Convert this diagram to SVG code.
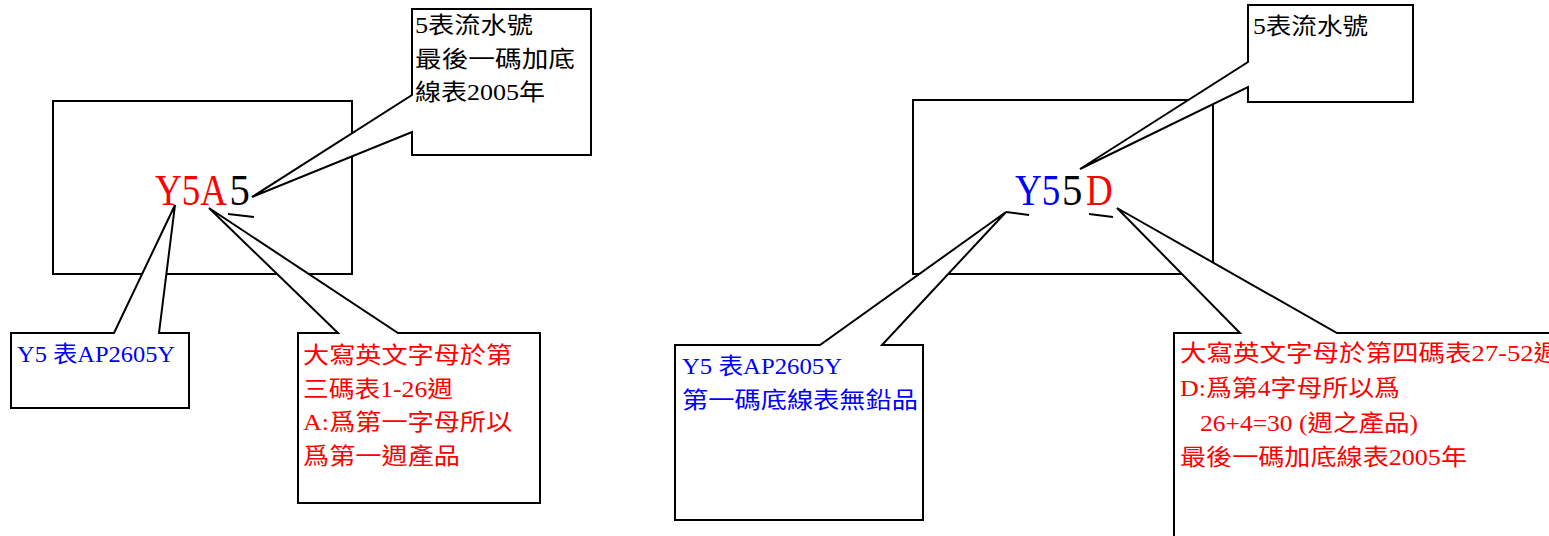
<svg xmlns="http://www.w3.org/2000/svg" width="1549" height="536" viewBox="0 0 1549 536">
<style>
.frame{fill:#fff;stroke:#000;stroke-width:2}
.callout{fill:#fff;stroke:#000;stroke-width:2;stroke-linejoin:miter}
.ul{stroke:#000;stroke-width:2;fill:none}
text{font-family:"Liberation Serif","Noto Sans CJK TC",serif}
.big{font-size:37px}
.t{font-size:23px}
.r{fill:#ff0000}
.b{fill:#0000ff}
.k{fill:#000}
</style>
<rect width="1549" height="536" fill="#fff"/>
<g id="label-left">
<rect class="frame" x="53" y="101" width="299" height="173"/>
<text class="big r" transform="translate(155 205) scale(1 1.2)">Y5A</text>
<text class="big k" transform="translate(229.5 205) scale(1.1 1.2)">5</text>
</g>
<g id="label-right">
<rect class="frame" x="913" y="100" width="300" height="174"/>
<text class="big b" transform="translate(1015 205) scale(1 1.2)">Y5</text>
<text class="big k" transform="translate(1062 205) scale(1.1 1.2)">5</text>
<text class="big r" transform="translate(1086 205) scale(1 1.2)">D</text>
</g>
<g id="connectors">
<line class="ul" x1="228" y1="214" x2="254" y2="217"/>
<line class="ul" x1="1006" y1="212" x2="1029" y2="215"/>
<line class="ul" x1="1089" y1="214" x2="1113" y2="217"/>
</g>
<g id="note-serial-left">
<polygon class="callout" points="412,9 591,9 591,155 412,155 412,132 252,197 412,95"/>
<text class="t k" x="415" y="33" textLength="118" lengthAdjust="spacingAndGlyphs">5表流水號</text>
<text class="t k" x="415" y="67" textLength="160" lengthAdjust="spacingAndGlyphs">最後一碼加底</text>
<text class="t k" x="415" y="100" textLength="130" lengthAdjust="spacingAndGlyphs">線表2005年</text>
</g>
<g id="note-model-left">
<polygon class="callout" points="11,333 114,333 175,205 159,333 189,333 189,408 11,408"/>
<text class="t b" x="17" y="362" textLength="158" lengthAdjust="spacingAndGlyphs">Y5 表AP2605Y</text>
</g>
<g id="note-week-left">
<polygon class="callout" points="298,333 338,333 209,208 398,333 540,333 540,503 298,503"/>
<text class="t r" x="303" y="363" textLength="209" lengthAdjust="spacingAndGlyphs">大寫英文字母於第</text>
<text class="t r" x="303" y="397" textLength="150" lengthAdjust="spacingAndGlyphs">三碼表1-26週</text>
<text class="t r" x="303" y="430" textLength="209" lengthAdjust="spacingAndGlyphs">A:爲第一字母所以</text>
<text class="t r" x="303" y="464" textLength="157" lengthAdjust="spacingAndGlyphs">爲第一週產品</text>
</g>
<g id="note-serial-right">
<polygon class="callout" points="1248,5 1413,5 1413,102 1248,102 1248,87 1080,169 1248,62"/>
<text class="t k" x="1253" y="34" textLength="115" lengthAdjust="spacingAndGlyphs">5表流水號</text>
</g>
<g id="note-model-right">
<polygon class="callout" points="675,345 820,345 1006,212 882,345 923,345 923,520 675,520"/>
<text class="t b" x="682" y="374" textLength="160" lengthAdjust="spacingAndGlyphs">Y5 表AP2605Y</text>
<text class="t b" x="682" y="408" textLength="236" lengthAdjust="spacingAndGlyphs">第一碼底線表無鉛品</text>
</g>
<g id="note-week-right">
<polygon class="callout" points="1174,333 1240,333 1117,208 1337,333 1560,333 1560,545 1174,545"/>
<text class="t r" x="1180" y="361" textLength="380" lengthAdjust="spacingAndGlyphs">大寫英文字母於第四碼表27-52週</text>
<text class="t r" x="1180" y="396" textLength="220" lengthAdjust="spacingAndGlyphs">D:爲第4字母所以爲</text>
<text class="t r" x="1200" y="431" textLength="218" lengthAdjust="spacingAndGlyphs">26+4=30 (週之產品)</text>
<text class="t r" x="1180" y="465" textLength="287" lengthAdjust="spacingAndGlyphs">最後一碼加底線表2005年</text>
</g>
</svg>
